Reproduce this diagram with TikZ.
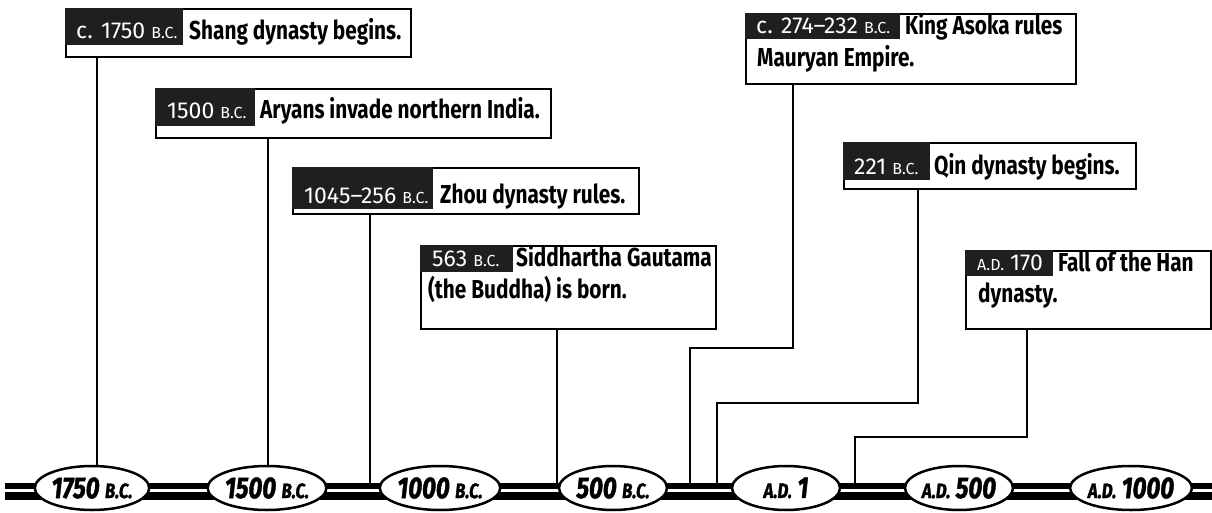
\documentclass[tikz,border=0pt]{standalone}
\usepackage{fontspec}
\setmainfont{Fira Sans}[FakeStretch=0.8]
\newfontfamily\datefont{Fira Sans}[FakeStretch=1.0]
\newfontfamily\ellfont{Fira Sans}[FakeStretch=0.8,FakeBold=1.4]
\usetikzlibrary{shapes.geometric}
\newcommand\smallbc{{\fontsize{16}{16}\selectfont B.C.}}
\newcommand\smallad{{\fontsize{16}{16}\selectfont A.D.}}
\newcommand\ebc{{\fontsize{21}{20}\selectfont B.C.}}
\newcommand\ead{{\fontsize{21}{20}\selectfont A.D.}}
\tikzset{
  frame/.style={draw=black,line width=2pt,fill=white,rectangle,inner sep=0pt,anchor=north west},
  datebg/.style={fill=black!88},
  conn/.style={line width=2pt},
  era/.style={ellipse,draw=black,line width=2.5pt,fill=white,minimum width=108pt,minimum height=44pt,inner sep=0pt,
    font=\ellfont\bfseries\itshape\fontsize{30}{30}\selectfont},
  desc/.style={anchor=base west,inner sep=0pt,font=\fontsize{26}{28}\selectfont\bfseries},
  datet/.style={anchor=base west,inner sep=0pt,text=white,font=\datefont\fontsize{23}{24}\selectfont},
}
\begin{document}
\begin{tikzpicture}[x=1pt,y=-1pt]
\useasboundingbox (0,0) rectangle (1212,513);
% timeline bar
\fill (5,483) rectangle (1212,489);
\fill (5,492) rectangle (1212,500);
% bar points
\coordinate (t1) at (97,483);
\coordinate (t2) at (268,483);
\coordinate (t3) at (370,483);
\coordinate (t4) at (557,483);
\coordinate (t5) at (690,483);
\coordinate (t6) at (717,483);
\coordinate (t7) at (855,483);
\coordinate (k5) at (793,348);
\coordinate (k6) at (918,403);
\coordinate (k7) at (1027,437);
% boxes
\node[frame,minimum width=345pt,minimum height=48pt] (b1) at (65,8) {};
\fill[datebg] (65,8) rectangle (183,45);
\node[datet] (d1) at (76,39) {c. 1750 \smallbc};
\node[desc] (x1) at (189,40) {Shang dynasty begins.};

\node[frame,minimum width=395pt,minimum height=49pt] (b2) at (155,88) {};
\fill[datebg] (155,88) rectangle (255,126);
\node[datet] (d2) at (167,119) {1500 \smallbc};
\node[desc] (x2) at (260,119) {Aryans invade northern India.};

\node[frame,minimum width=346pt,minimum height=46pt] (b3) at (292,167) {};
\fill[datebg] (292,167) rectangle (433,209);
\node[datet] (d3) at (304,204) {1045–256 \smallbc};
\node[desc] (x3) at (440,204) {Zhou dynasty rules.};

\node[frame,minimum width=295pt,minimum height=83pt] (b4) at (420,245) {};
\fill[datebg] (420,245) rectangle (513,272);
\node[datet] (d4) at (432,266) {563 \smallbc};
\node[desc] (x4a) at (516,266) {Siddhartha Gautama};
\node[desc] (x4b) at (428,298) {(the Buddha) is born.};

\node[frame,minimum width=330pt,minimum height=70pt] (b5) at (745,13) {};
\fill[datebg] (745,13) rectangle (900,39);
\node[datet] (d5) at (756,34) {c. 274–232 \smallbc};
\node[desc] (x5a) at (905,35) {King Asoka rules};
\node[desc] (x5b) at (757,67) {Mauryan Empire.};

\node[frame,minimum width=292pt,minimum height=46pt] (b6) at (843,142) {};
\fill[datebg] (843,142) rectangle (930,180);
\node[datet] (d6) at (854,175) {221 \smallbc};
\node[desc] (x6) at (934,175) {Qin dynasty begins.};

\node[frame,minimum width=245pt,minimum height=78pt] (b7) at (965,250) {};
\fill[datebg] (965,250) rectangle (1053,276);
\node[datet] (d7) at (977,270) {\smallad{} 170};
\node[desc] (x7a) at (1058,271) {Fall of the Han};
\node[desc] (x7b) at (978,302) {dynasty.};
% connectors
\draw[conn] (b1.south -| t1) -- (t1);
\draw[conn] (b2.south -| t2) -- (t2);
\draw[conn] (b3.south -| t3) -- (t3);
\draw[conn] (b4.south -| t4) -- (t4);
\draw[conn] (b5.south -| k5) -- (k5) -| (t5);
\draw[conn] (b6.south -| k6) -- (k6) -| (t6);
\draw[conn] (b7.south -| k7) -- (k7) -| (t7);
% era ellipses
\node[era] (e1) at (92,488) {1750 \ebc};
\node[era] (e2) at (267,488) {1500 \ebc};
\node[era] (e3) at (440,488) {1000 \ebc};
\node[era] (e4) at (613,488) {500 \ebc};
\node[era] (e5) at (786,488) {\ead{} 1};
\node[era] (e6) at (959,488) {\ead{} 500};
\node[era] (e7) at (1131,488) {\ead{} 1000};
\end{tikzpicture}
\end{document}
